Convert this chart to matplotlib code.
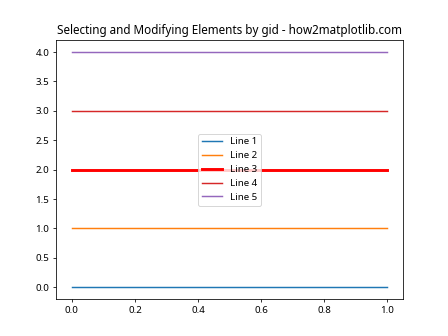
import matplotlib
matplotlib.use('Agg')
import matplotlib.pyplot as plt

plt.rcParams['font.family'] = ['Noto Sans', 'DejaVu Sans']

x_vals = [0, 1]
line_levels = [0, 1, 2, 3, 4]
line_labels = ['Line 1', 'Line 2', 'Line 3', 'Line 4', 'Line 5']

fig, ax = plt.subplots(figsize=(6.4, 4.8), dpi=70)

lines = []
for level, label in zip(line_levels, line_labels):
    line, = ax.plot(x_vals, [level, level], label=label, gid=label)
    lines.append(line)

# modify the one with gid 'Line 3'
for line in lines:
    if line.get_gid() == 'Line 3':
        line.set_color('red')
        line.set_linewidth(3)

ax.set_title('Selecting and Modifying Elements by gid - how2matplotlib.com')
ax.legend(loc='center')

fig.savefig('out.png', dpi=70)
